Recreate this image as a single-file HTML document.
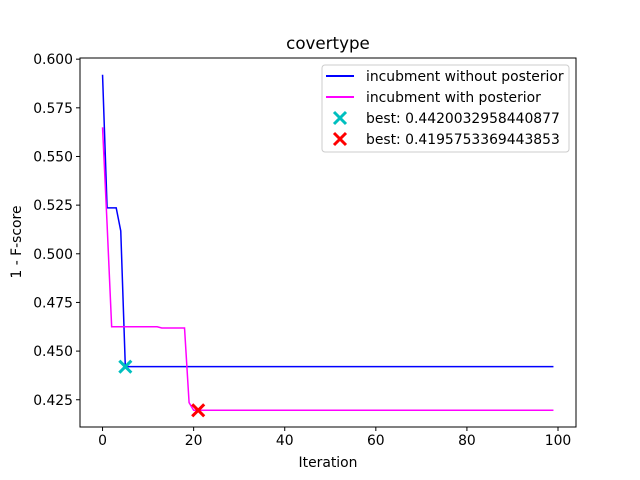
<!DOCTYPE html>
<html><head><meta charset="utf-8"><style>body{margin:0;background:#fff}svg{display:block;font-family:"DejaVu Sans","Liberation Sans",sans-serif}</style></head>
<body>
<svg id="chart" width="640" height="480" xmlns="http://www.w3.org/2000/svg">
<rect width="640" height="480" fill="#fff"/>
<text x="328" y="49" font-size="16.7" text-anchor="middle">covertype</text>
<g id="plot"></g>
<rect x="80" y="58" width="496" height="369" fill="none" stroke="#000" stroke-width="1"/>
<text x="328" y="467" font-size="13.9" text-anchor="middle">Iteration</text>
<text x="21" y="242" font-size="13.9" text-anchor="middle" transform="rotate(-90 21 242)">1 - F-score</text>
<g>
<rect x="322" y="65" width="247" height="87" rx="3" fill="#fff" fill-opacity="0.8" stroke="#ccc"/>
<line x1="326" y1="76" x2="354" y2="76" stroke="#0000ff" stroke-width="2"/>
<text x="366" y="81" font-size="13.9">incubment without posterior</text>
<line x1="326" y1="97" x2="354" y2="97" stroke="#ff00ff" stroke-width="2"/>
<text x="366" y="102" font-size="13.9">incubment with posterior</text>
<path d="M334 112 L346 124 M346 112 L334 124" stroke="#00bfbf" stroke-width="3"/>
<text x="366" y="123" font-size="13.9">best: 0.4420032958440877</text>
<path d="M334 133 L346 145 M346 133 L334 145" stroke="#ff0000" stroke-width="3"/>
<text x="366" y="144" font-size="13.9">best: 0.4195753369443853</text>
</g>
</svg>
<script>
const xTicks=[0,20,40,60,80,100];
const yTicks=[0.425,0.450,0.475,0.500,0.525,0.550,0.575,0.600];
const blueHead=[0.592,0.5236,0.5236,0.5236,0.5117,0.442];
const blueTail=0.442;
const magHead=[0.565,0.515,0.4625,0.4625,0.4625,0.4625,0.4625,0.4625,0.4625,0.4625,0.4625,0.4625,0.4625,0.4619,0.4619,0.4619,0.4619,0.4619,0.4619,0.4235,0.4196];
const magTail=0.4196;
const nIter=100;
const bestX=[5,21];
const bestY=[0.4420032958440877,0.4195753369443853];
const bestColors=['#00bfbf','#ff0000'];
const NS='http://www.w3.org/2000/svg';
const X0=80,X1=576,Y0=58,Y1=427;
const xmin=-4.95,xmax=103.95,ymin=0.4110,ymax=0.6006;
const sx=v=>X0+(v-xmin)/(xmax-xmin)*(X1-X0);
const sy=v=>Y0+(ymax-v)/(ymax-ymin)*(Y1-Y0);
const g=document.getElementById('plot');
function mk(t,a){const e=document.createElementNS(NS,t);for(const k in a)e.setAttribute(k,a[k]);g.appendChild(e);return e;}
xTicks.forEach(t=>{const x=sx(t);
const l=mk('line',{x1:x,x2:x,y1:Y1,y2:Y1+4,stroke:'#000'});


const s=mk('text',{x:x,y:Y1+18,'font-size':13.9,'text-anchor':'middle'});s.textContent=t;

});
yTicks.forEach(t=>{const y=sy(t);
const l=mk('line',{x1:X0-4,x2:X0,y1:y,y2:y,stroke:'#000'});


const s=mk('text',{x:X0-7,y:y+5,'font-size':13.9,'text-anchor':'end'});s.textContent=t.toFixed(3);

});
function full(head,tail){const a=head.slice();while(a.length<nIter)a.push(tail);return a;}
function line(vals,color,name){const p=mk('polyline',{points:vals.map((v,i)=>sx(i)+','+sy(v)).join(' '),fill:'none',stroke:color,'stroke-width':1.5});

}
line(full(blueHead,blueTail),'#0000ff','line-without-posterior');
line(full(magHead,magTail),'#ff00ff','line-with-posterior');
bestX.forEach((bx,i)=>{const x=sx(bx),y=sy(bestY[i]);
const p=mk('path',{d:`M${x-6} ${y-6}L${x+6} ${y+6}M${x+6} ${y-6}L${x-6} ${y+6}`,stroke:bestColors[i],'stroke-width':3});

});
</script>
</body></html>
